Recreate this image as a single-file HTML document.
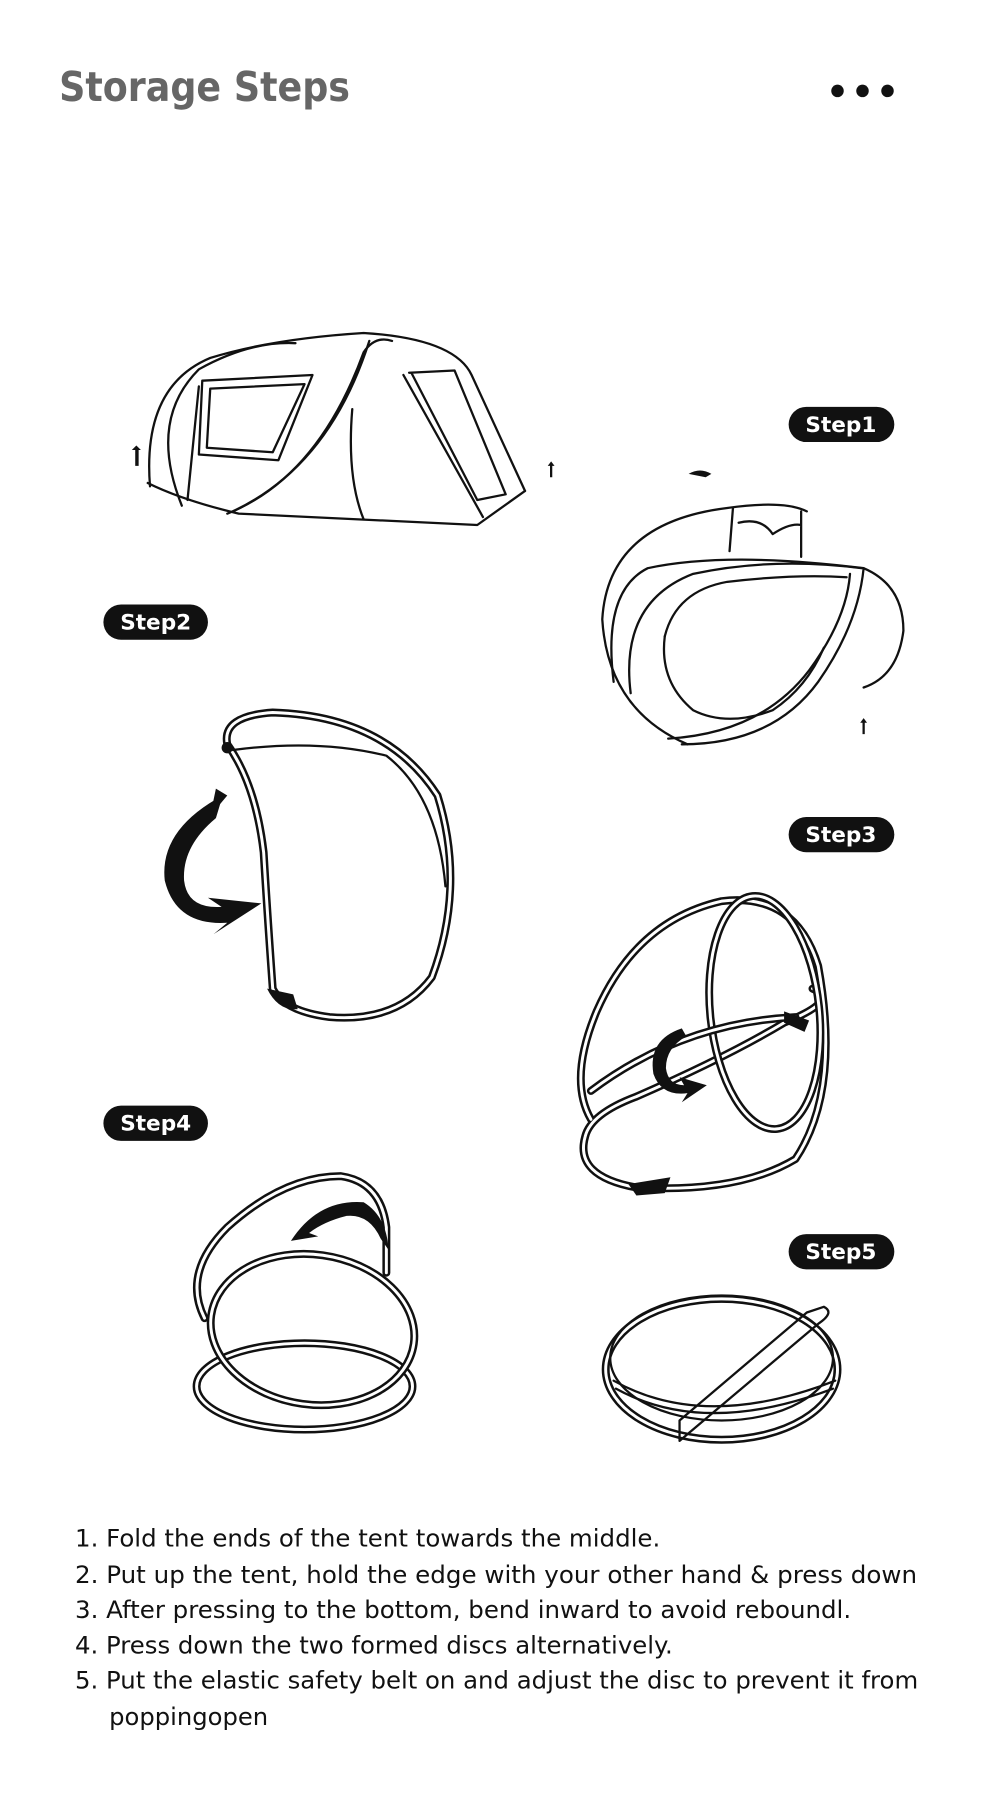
<!DOCTYPE html>
<html><head><meta charset="utf-8"><style>
html,body{margin:0;padding:0;background:#fff;width:1000px;height:1800px;overflow:hidden}
svg{display:block}
.t{stroke:#111;stroke-width:7;fill:none;stroke-linecap:round;stroke-linejoin:round}
.w{stroke:#fff;stroke-width:2.6;fill:none;stroke-linecap:round;stroke-linejoin:round}
.l{stroke:#111;stroke-width:2;fill:none;stroke-linecap:round;stroke-linejoin:round}
.badge text{font-family:"DejaVu Sans","Liberation Sans",sans-serif;font-weight:bold;font-size:19px;fill:#fff}
.ins{font-family:"DejaVu Sans","Liberation Sans",sans-serif;font-size:21px;fill:#111}
</style></head><body>
<svg width="1000" height="1800" viewBox="0 0 880 1584" xmlns="http://www.w3.org/2000/svg">
<text x="52" y="89" font-family="DejaVu Sans, Liberation Sans, sans-serif" font-weight="bold" font-size="36" fill="#666" textLength="256" lengthAdjust="spacingAndGlyphs">Storage Steps</text>
<circle cx="737" cy="80" r="5.5" fill="#111"/><circle cx="759" cy="80" r="5.5" fill="#111"/><circle cx="781" cy="80" r="5.5" fill="#111"/>

<!-- badges -->
<g class="badge">
<rect x="694" y="358" width="93" height="31" rx="15.5" fill="#111"/><text x="740" y="380" text-anchor="middle">Step1</text>
<rect x="91" y="532" width="92" height="31" rx="15.5" fill="#111"/><text x="137" y="554" text-anchor="middle">Step2</text>
<rect x="694" y="719" width="93" height="31" rx="15.5" fill="#111"/><text x="740" y="741" text-anchor="middle">Step3</text>
<rect x="91" y="973" width="92" height="31" rx="15.5" fill="#111"/><text x="137" y="995" text-anchor="middle">Step4</text>
<rect x="694" y="1086" width="93" height="31" rx="15.5" fill="#111"/><text x="740" y="1108" text-anchor="middle">Step5</text>
</g>

<!-- tent -->
<g>
<path class="l" d="M130 425 Q160 440 210 452 L420 462 L462 432"/>
<path class="l" d="M132 428 Q125 340 185 315 Q240 298 320 293 Q400 298 415 330 L462 432"/>
<path class="l" d="M160 445 Q130 370 175 325 Q220 300 260 302"/>
<path class="l" d="M200 452 Q280 420 320 310 Q330 295 345 300"/>
<path class="l" d="M205 450 Q290 410 325 300"/>
<path class="l" d="M355 330 L425 455 M362 328 L420 440 M360 328 L400 326 L445 435 L420 440"/>
<path class="l" d="M310 360 Q305 420 320 457"/>
<path class="l" d="M178 335 L275 330 L245 405 L175 400 Z"/>
<path class="l" d="M185 342 L268 338 L240 398 L182 394 Z"/>
<path class="l" d="M165 440 L175 340"/>
<path d="M116 396 l4 -4 l4 4 l-2 0 l0 14 l-3 0 l0 -14z" fill="#111"/>
<path d="M482 410 l3 -4 l3 4 l-2 0 l0 10 l-2 0 l0 -10z" fill="#111"/>
<path d="M606 417 q10 -6 20 0 l-5 3 z" fill="#111"/>
<path d="M757 636 l3 -4 l3 4 l-2 0 l0 10 l-2 0 l0 -10z" fill="#111"/>
</g>

<!-- step1 folded -->
<g>
<path class="l" d="M605 655 Q535 625 530 545 Q535 460 640 447 Q690 440 710 450"/>
<path class="l" d="M540 600 Q530 520 570 500 Q640 485 760 500 Q795 515 795 555 Q790 595 760 605"/>
<path class="l" d="M555 610 Q545 530 610 505 Q680 490 758 500"/>
<path class="l" d="M600 655 Q680 655 720 600 Q755 550 760 500"/>
<path class="l" d="M588 650 Q670 645 712 590 Q745 545 748 505"/>
<path class="l" d="M585 560 Q595 520 640 512 Q700 505 745 508"/>
<path class="l" d="M585 560 Q580 600 610 625 Q640 640 680 625 Q710 605 725 570"/>
<path class="l" d="M645 447 L642 485 M705 450 L705 490 M650 460 Q670 455 680 470 Q695 460 705 462"/>
</g>

<!-- step2 -->
<g>
<path class="t" d="M200 655 Q195 630 240 627 Q340 630 385 700 Q410 780 380 860 Q350 900 290 895 Q250 890 240 870 Q235 800 232 750 Q225 690 200 655"/>
<path class="w" d="M200 655 Q195 630 240 627 Q340 630 385 700 Q410 780 380 860 Q350 900 290 895 Q250 890 240 870 Q235 800 232 750 Q225 690 200 655"/>
<path class="l" d="M205 660 Q280 650 340 665 Q385 700 392 780"/>
<path d="M196 700 Q140 730 145 775 Q155 815 200 812 L188 822 L230 795 L183 790 L195 798 Q165 800 162 775 Q160 745 190 720 Z" fill="#111"/>
<path d="M190 694 L200 700 L185 718 Z" fill="#111"/>
<path d="M235 870 Q245 890 262 888 L258 875 Z" fill="#111"/>
<circle cx="200" cy="658" r="5" fill="#111"/>
</g>

<!-- step3 -->
<g>
<path class="t" d="M520 985 Q500 950 525 890 Q560 810 635 793 Q700 785 720 850 Q740 960 700 1020 Q650 1050 560 1045 Q505 1035 515 1000 Q520 980 560 965 Q640 930 690 900 Q740 880 715 870"/>
<path class="w" d="M520 985 Q500 950 525 890 Q560 810 635 793 Q700 785 720 850 Q740 960 700 1020 Q650 1050 560 1045 Q505 1035 515 1000 Q520 980 560 965 Q640 930 690 900 Q740 880 715 870"/>
<ellipse class="t" cx="673" cy="891" rx="48" ry="103" transform="rotate(-6 673 891)"/>
<ellipse class="w" cx="673" cy="891" rx="48" ry="103" transform="rotate(-6 673 891)"/>
<path class="t" d="M520 960 Q600 900 700 895"/>
<path class="w" d="M520 960 Q600 900 700 895"/>
<path d="M600 905 Q570 915 575 945 Q582 965 605 962 L600 970 L622 955 L598 948 L602 955 Q588 955 586 940 Q586 922 604 912 Z" fill="#111"/>
<path d="M690 890 L712 898 L708 908 L690 900 Z" fill="#111"/>
<path d="M553 1042 L590 1036 L585 1050 L560 1052 Z" fill="#111"/>
</g>

<!-- step4 -->
<g>
<ellipse class="t" cx="268" cy="1220" rx="95" ry="38"/>
<ellipse class="w" cx="268" cy="1220" rx="95" ry="38"/>
<path class="t" d="M180 1160 Q160 1120 200 1080 Q250 1035 300 1035 Q335 1040 340 1080 L340 1120"/>
<path class="w" d="M180 1160 Q160 1120 200 1080 Q250 1035 300 1035 Q335 1040 340 1080 L340 1120"/>
<ellipse class="t" cx="275" cy="1170" rx="90" ry="66" transform="rotate(8 275 1170)"/>
<ellipse class="w" cx="275" cy="1170" rx="90" ry="66" transform="rotate(8 275 1170)"/>
<path d="M256 1092 Q280 1055 320 1058 Q340 1070 342 1100 L335 1090 Q325 1068 305 1070 Q285 1075 272 1085 L280 1088 Z" fill="#111"/>
</g>

<!-- step5 -->
<g>
<ellipse class="t" cx="635" cy="1205" rx="102" ry="62"/>
<ellipse class="w" cx="635" cy="1205" rx="102" ry="62"/>
<ellipse class="l" cx="635" cy="1195" rx="98" ry="55"/>
<path class="l" d="M540 1215 Q620 1260 735 1215 M542 1222 Q620 1265 733 1222"/>
<path class="l" d="M598 1268 L720 1165 Q735 1155 725 1150 L710 1155 L598 1250 Z"/>
</g>

<!-- instructions -->
<g class="ins">
<text x="66" y="1361" textLength="515" lengthAdjust="spacingAndGlyphs">1. Fold the ends of the tent towards the middle.</text>
<text x="66" y="1393" textLength="741" lengthAdjust="spacingAndGlyphs">2. Put up the tent, hold the edge with your other hand &amp; press down</text>
<text x="66" y="1424" textLength="683" lengthAdjust="spacingAndGlyphs">3. After pressing to the bottom, bend inward to avoid reboundl.</text>
<text x="66" y="1455" textLength="526" lengthAdjust="spacingAndGlyphs">4. Press down the two formed discs alternatively.</text>
<text x="66" y="1486" textLength="742" lengthAdjust="spacingAndGlyphs">5. Put the elastic safety belt on and adjust the disc to prevent it from</text>
<text x="96" y="1518" textLength="140" lengthAdjust="spacingAndGlyphs">poppingopen</text>
</g>
</svg>
</body></html>
